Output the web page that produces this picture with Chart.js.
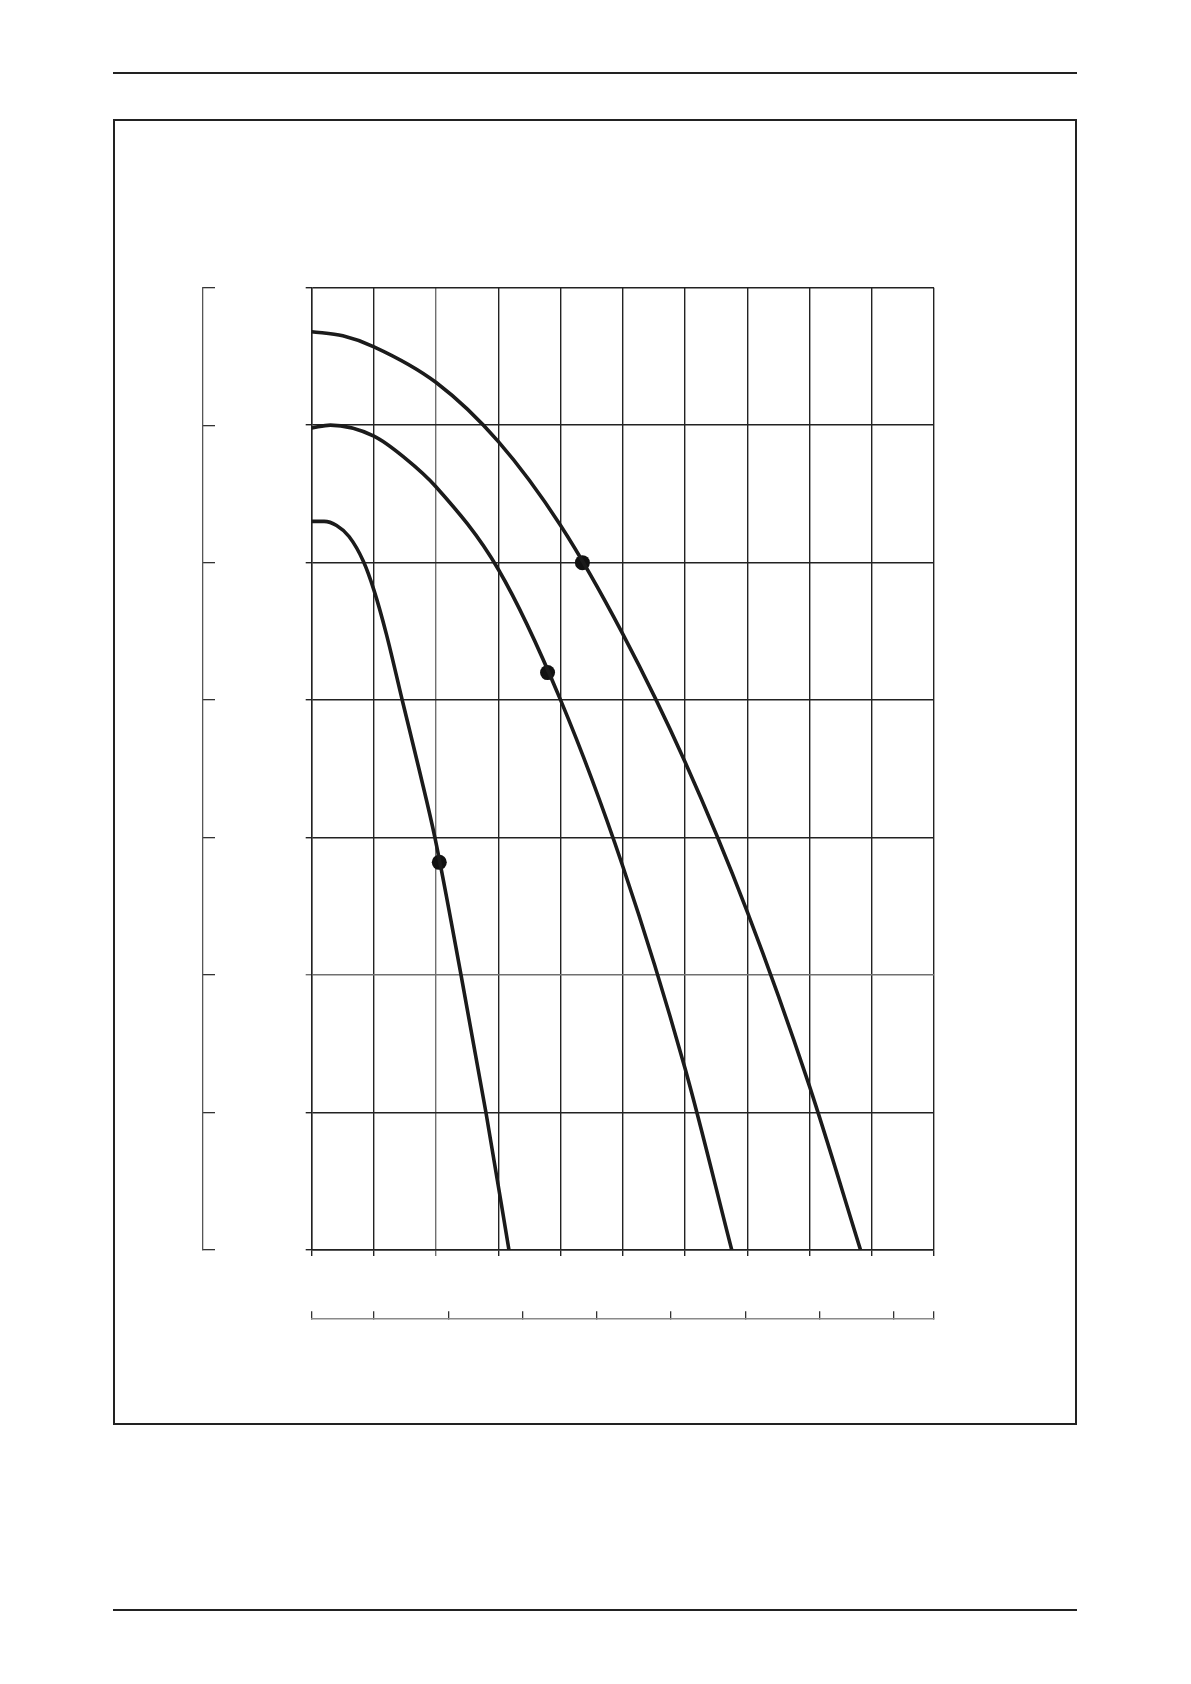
<!DOCTYPE html>
<html>
<head>
<meta charset="utf-8">
<script src="https://cdn.jsdelivr.net/npm/chart.js@4/dist/chart.umd.min.js"></script>
<style>
  html, body { margin: 0; padding: 0; background: #fff; }
  body { width: 1191px; height: 1684px; position: relative; overflow: hidden; font-family: "DejaVu Sans", sans-serif; }
  .rule { position: absolute; left: 113px; width: 964px; background: #222; }
  #topRule { top: 72px; height: 1.6px; }
  #bottomRule { top: 1609px; height: 1.8px; }
  #frame { position: absolute; left: 113px; top: 119px; width: 964px; height: 1306px; box-sizing: border-box; border: 2px solid #222; }
  #chartCanvas { position: absolute; left: 113px; top: 119px; }
</style>
</head>
<body>
<div class="rule" id="topRule"></div>
<div id="frame"></div>
<div class="rule" id="bottomRule"></div>
<canvas id="chartCanvas" width="964" height="1306"></canvas>
<script>
// ---- data (grid units) ----
const xMin = 0, xMax = 10, xStep = 1;
const yMin = 0, yMax = 7, yStep = 1;

// secondary flow axis (other unit): end values and tick values
const secMin = 0.1625, secMax = 8.538;
const secTicks = [0.1625, 1, 2, 3, 4, 5, 6, 7, 8, 8.538];

// highest curve
const highX = [0, 0.5, 1, 2, 3, 4, 5, 6, 7, 8, 8.82];
const highY = [6.68, 6.65, 6.57, 6.31, 5.88, 5.27, 4.48, 3.55, 2.46, 1.19, 0];

// middle curve
const midX = [0, 0.3, 1, 1.5, 2, 3, 4, 5, 6, 6.75];
const midY = [5.98, 6.0, 5.92, 5.76, 5.55, 4.95, 4.0, 2.79, 1.32, 0];

// lowest curve
const lowX = [0, 0.2, 0.4, 0.6, 0.83, 1.0, 1.2, 1.46, 1.74, 1.98, 2.4, 2.8, 3.17];
const lowY = [5.30, 5.30, 5.27, 5.19, 5.01, 4.80, 4.48, 3.99, 3.47, 3.0, 2.0, 1.0, 0];

// duty points (dots)
const dotX = [4.35, 3.79, 2.05];
const dotY = [5.0, 4.2, 2.82];

// ---- build ----
const toPts = (xs, ys) => xs.map((x, i) => ({ x: x, y: ys[i] }));
const lineStyle = {
  type: 'line',
  borderColor: '#1b1b1b',
  borderWidth: 3.6,
  pointRadius: 0,
  fill: false,
  cubicInterpolationMode: 'monotone'
};
const gridColor = (ctx) => (ctx.tick && ctx.tick.value === 2) ? '#707070' : '#222';

new Chart(document.getElementById('chartCanvas'), {
  type: 'line',
  data: {
    datasets: [
      Object.assign({ data: toPts(highX, highY) }, lineStyle),
      Object.assign({ data: toPts(midX, midY) }, lineStyle),
      Object.assign({ data: toPts(lowX, lowY) }, lineStyle),
      {
        type: 'scatter',
        data: toPts(dotX, dotY),
        pointRadius: 7.5,
        pointBackgroundColor: '#111',
        pointBorderWidth: 0,
        showLine: false
      }
    ]
  },
  options: {
    responsive: false,
    animation: false,
    devicePixelRatio: 1,
    layout: { padding: { left: 80, right: 143, top: 168.7, bottom: 96.7 } },
    plugins: { legend: { display: false }, tooltip: { enabled: false } },
    scales: {
      x: {
        type: 'linear', position: 'bottom', weight: 0,
        min: xMin, max: xMax,
        ticks: { stepSize: xStep, display: false, autoSkip: false },
        grid: { color: gridColor, lineWidth: 1.4, tickLength: 6, drawTicks: true },
        border: { display: true, color: '#222', width: 1.4 },
        afterFit: (s) => { s.height = 68.3; }
      },
      x2: {
        type: 'linear', position: 'bottom', weight: 1,
        min: secMin, max: secMax,
        ticks: { display: false, autoSkip: false },
        afterBuildTicks: (s) => { s.ticks = secTicks.map(v => ({ value: v })); },
        grid: { drawOnChartArea: false, drawTicks: true, tickLength: -7, color: '#333', lineWidth: 1.3 },
        border: { display: true, color: '#8a8a8a', width: 1.6 },
        afterFit: (s) => { s.height = 10; }
      },
      y: {
        type: 'linear', position: 'left', weight: 0,
        min: yMin, max: yMax,
        ticks: { stepSize: yStep, display: false, autoSkip: false },
        grid: { color: gridColor, lineWidth: 1.4, tickLength: 6, drawTicks: true },
        border: { display: true, color: '#222', width: 1.4 },
        afterFit: (s) => { s.width = 108.7; }
      },
      y2: {
        type: 'linear', position: 'left', weight: 1,
        min: yMin, max: yMax,
        ticks: { stepSize: yStep, display: false, autoSkip: false },
        grid: { drawOnChartArea: false, drawTicks: true, tickLength: -12, color: '#333', lineWidth: 1.3 },
        border: { display: true, color: '#555', width: 1.3 },
        afterFit: (s) => { s.width = 10; }
      }
    }
  }
});
</script>
</body>
</html>
